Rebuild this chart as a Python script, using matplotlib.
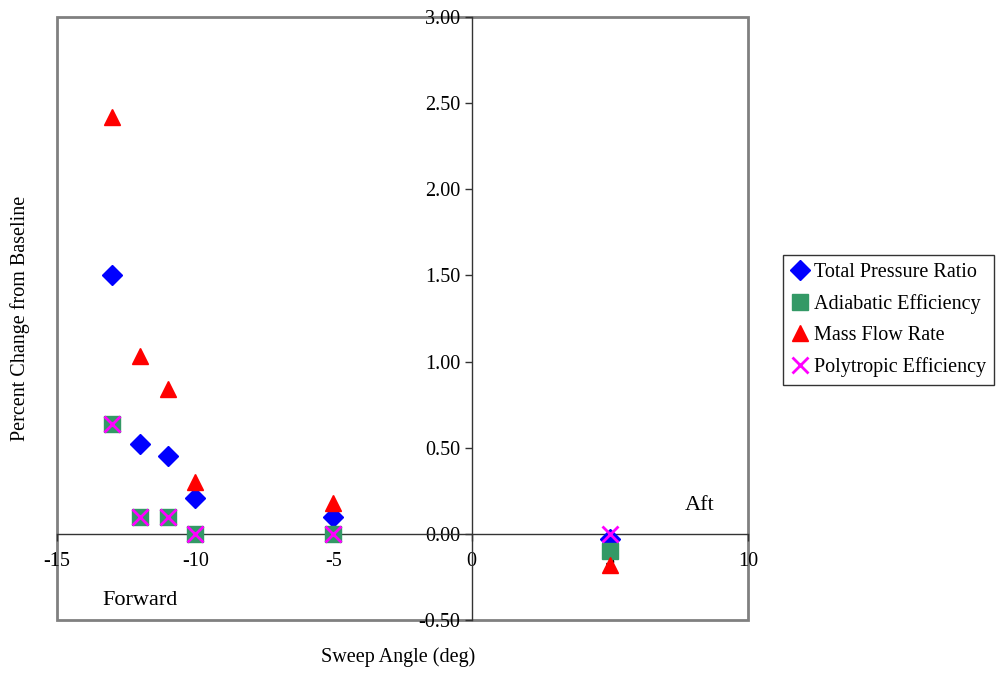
import matplotlib
matplotlib.use("Agg")
import matplotlib.pyplot as plt
from matplotlib.patches import Rectangle

plt.rcParams['font.family'] = ['Liberation Serif', 'DejaVu Serif']
plt.rcParams['axes.unicode_minus'] = False

sweep = [-13, -12, -11, -10, -5, 5]
total_pressure = [1.50, 0.52, 0.45, 0.21, 0.10, -0.03]
adiabatic_eff = [0.64, 0.10, 0.10, 0.00, 0.00, -0.10]
mass_flow = [2.42, 1.03, 0.84, 0.30, 0.18, -0.18]
polytropic_eff = [0.64, 0.10, 0.10, 0.00, 0.00, 0.00]

x_ticks = [-15, -10, -5, 0, 5, 10]
y_ticks = [-0.5, 0.0, 0.5, 1.0, 1.5, 2.0, 2.5, 3.0]

W, H = 1002, 673
fig = plt.figure(figsize=(W / 100, H / 100), dpi=100)
ax = fig.add_axes([57 / W, 1 - 620 / H, (748 - 57) / W, (620 - 17) / H])

ax.set_xlim(-15, 10)
ax.set_ylim(-0.5, 3.0)

ax.plot(sweep, total_pressure, linestyle='none', marker='D', ms=10, color='#0000FF',
        label='Total Pressure Ratio', clip_on=False, zorder=3)
ax.plot(sweep, adiabatic_eff, linestyle='none', marker='s', ms=11, color='#339966',
        label='Adiabatic Efficiency', clip_on=False, zorder=3)
ax.plot(sweep, mass_flow, linestyle='none', marker='^', ms=12, color='#FF0000',
        label='Mass Flow Rate', clip_on=False, zorder=3)
ax.plot(sweep, polytropic_eff, linestyle='none', marker='x', ms=11, mew=2, color='#FF00FF',
        label='Polytropic Efficiency', clip_on=False, zorder=3)

# spines through zero
for s in ['top', 'right']:
    ax.spines[s].set_visible(False)
ax.spines['left'].set_position(('data', 0))
ax.spines['bottom'].set_position(('data', 0))
for s in ['left', 'bottom']:
    ax.spines[s].set_color('#333333')
    ax.spines[s].set_linewidth(1.0)
    ax.spines[s].set_zorder(2)

# outer plot-area border
ax.add_patch(Rectangle((0, 0), 1, 1, transform=ax.transAxes, fill=False,
                       edgecolor='#808080', linewidth=2, clip_on=False, zorder=1))

ax.set_xticks(x_ticks)
ax.set_xticklabels([str(v) for v in x_ticks])
ax.set_yticks(y_ticks)
ax.set_yticklabels([f"{v:.2f}" for v in y_ticks])
ax.tick_params(axis='both', direction='out', length=5, width=1, color='#333333',
               labelsize=14.5, pad=3)
ax.tick_params(axis='x', pad=8)
for lbl in ax.get_xticklabels() + ax.get_yticklabels():
    lbl.set_zorder(5)

ax.text(-12.0, -0.385, 'Forward', fontsize=16, ha='center', va='center')
ax.text(8.25, 0.165, 'Aft', fontsize=16, ha='center', va='center')

fig.text(398 / W, 1 - 657 / H, 'Sweep Angle (deg)', fontsize=14.5, ha='center', va='center')
fig.text(20 / W, 1 - 318 / H, 'Percent Change from Baseline', fontsize=14.5,
         rotation=90, ha='center', va='center')

leg = ax.legend(loc='upper left', bbox_to_anchor=(783 / W, 1 - 255 / H),
                bbox_transform=fig.transFigure, borderaxespad=0, frameon=True,
                fancybox=False, edgecolor='black', fontsize=14.5, handlelength=0.9,
                handletextpad=0.25, labelspacing=0.6, borderpad=0.4)
leg.get_frame().set_linewidth(1.0)

fig.savefig('out.png', dpi=100)
